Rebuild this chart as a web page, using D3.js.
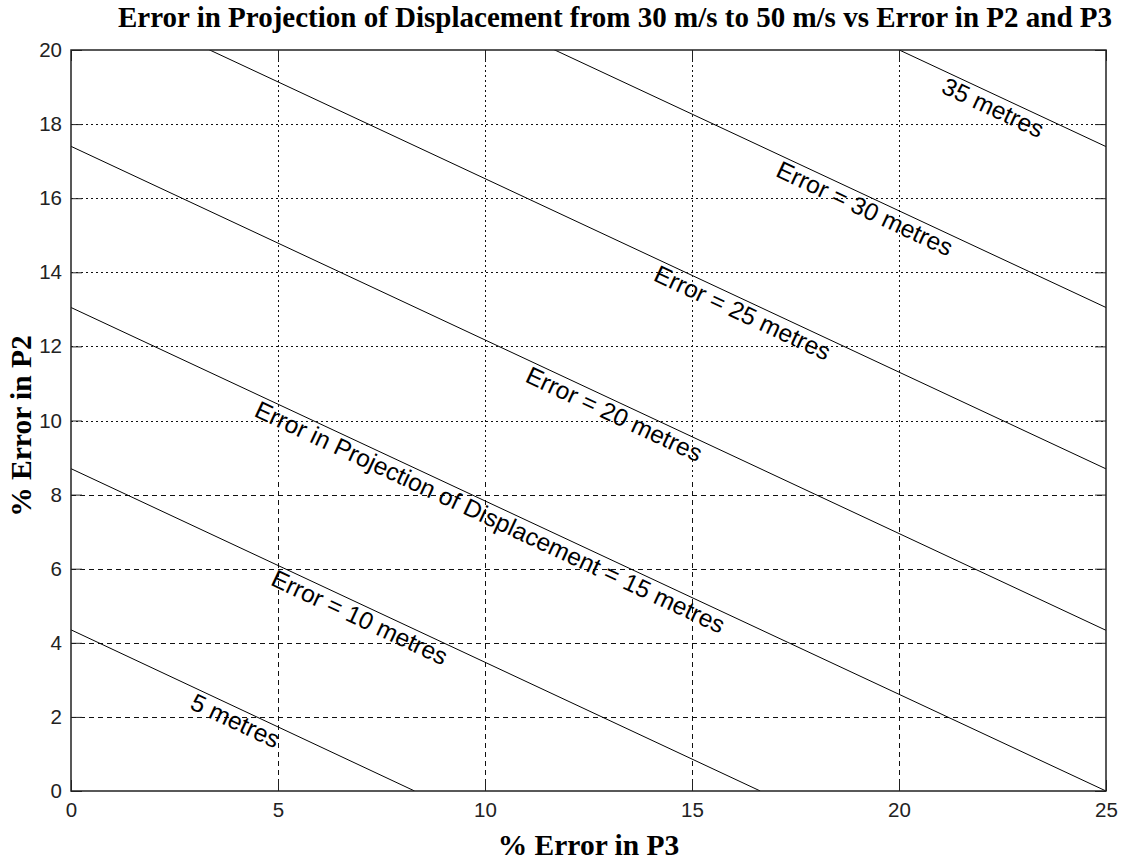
<!DOCTYPE html>
<html>
<head>
<meta charset="utf-8">
<script src="https://cdn.jsdelivr.net/npm/d3@7"></script>
<style>
  html, body { margin: 0; padding: 0; background: #fff; }
  svg { display: block; }
</style>
</head>
<body>
<svg id="chart" width="1125" height="863"></svg>
<script>
// Error levels of the contour lines (metres)
const levels = [5, 10, 15, 20, 25, 30, 35];
// % error in P2 where each contour meets P3 = 0
const p2AtZeroP3 = [4.35, 8.7, 13.05, 17.4, 21.75, 26.1, 30.45];
// % error in P3 where each contour meets P2 = 0
const p3AtZeroP2 = [8.3, 16.65, 25, 33.3, 41.65, 50, 58.3];
// Contour label text and the P3 value where each label sits
const labelTexts = [
  "5 metres",
  "Error = 10 metres",
  "Error in Projection of Displacement = 15 metres",
  "Error = 20 metres",
  "Error = 25 metres",
  "Error = 30 metres",
  "35 metres"
];
const labelAtP3 = [4.1, 7.1, 10.25, 13.25, 16.35, 19.3, 22.4];
// Axis ticks
const xTicks = [0, 5, 10, 15, 20, 25];
const yTicks = [0, 2, 4, 6, 8, 10, 12, 14, 16, 18, 20];

const titleText = "Error in Projection of Displacement from 30 m/s to 50 m/s vs Error in P2 and P3";
const xLabel = "% Error in P3";
const yLabel = "% Error in P2";

const svg = d3.select("#chart");
const plotLeft = 71, plotRight = 1106, plotTop = 50, plotBottom = 791;

const x = d3.scaleLinear().domain([0, 25]).range([plotLeft, plotRight]);
const y = d3.scaleLinear().domain([0, 20]).range([plotBottom, plotTop]);

const defs = svg.append("defs");
defs.append("clipPath").attr("id", "plot-clip")
  .append("rect").attr("x", plotLeft).attr("y", plotTop)
  .attr("width", plotRight - plotLeft).attr("height", plotBottom - plotTop);
// grid is drawn dotted in the upper band and dashed in the lower band
const splitY = 479;
defs.append("clipPath").attr("id", "upper-clip")
  .append("rect").attr("x", plotLeft).attr("y", plotTop)
  .attr("width", plotRight - plotLeft).attr("height", splitY - plotTop);
defs.append("clipPath").attr("id", "lower-clip")
  .append("rect").attr("x", plotLeft).attr("y", splitY)
  .attr("width", plotRight - plotLeft).attr("height", plotBottom - splitY);

function drawGrid(g) {
  g.selectAll("line.v").data(xTicks.slice(1, -1)).join("line")
    .attr("class", "v")
    .attr("x1", d => Math.round(x(d)) + 0.5).attr("x2", d => Math.round(x(d)) + 0.5)
    .attr("y1", plotTop).attr("y2", plotBottom);
  g.selectAll("line.h").data(yTicks.slice(1, -1)).join("line")
    .attr("class", "h")
    .attr("x1", plotLeft).attr("x2", plotRight)
    .attr("y1", d => Math.round(y(d)) + 0.5).attr("y2", d => Math.round(y(d)) + 0.5);
}
const gridUpper = svg.append("g").attr("clip-path", "url(#upper-clip)")
  .attr("stroke", "#111").attr("stroke-width", 1).attr("stroke-dasharray", "2,3");
drawGrid(gridUpper);
const gridLower = svg.append("g").attr("clip-path", "url(#lower-clip)")
  .attr("stroke", "#111").attr("stroke-width", 1).attr("stroke-dasharray", "5,4");
drawGrid(gridLower);

// Contour lines
const contours = levels.map((lv, i) => ({
  level: lv,
  pts: [[0, p2AtZeroP3[i]], [p3AtZeroP2[i], 0]],
  text: labelTexts[i],
  at: labelAtP3[i]
}));
const line = d3.line().x(d => x(d[0])).y(d => y(d[1]));
svg.append("g").attr("clip-path", "url(#plot-clip)")
  .selectAll("path").data(contours).join("path")
  .attr("d", d => line(d.pts))
  .attr("fill", "none").attr("stroke", "#000").attr("stroke-width", 1);

// Contour labels, rotated along each line and hung just below it
svg.append("g").selectAll("text").data(contours).join("text")
  .attr("transform", d => {
    const [a, b] = d.pts;
    const ang = Math.atan2(y(b[1]) - y(a[1]), x(b[0]) - x(a[0])) * 180 / Math.PI;
    const p2 = a[1] + (b[1] - a[1]) * (d.at - a[0]) / (b[0] - a[0]);
    return `translate(${x(d.at)},${y(p2)}) rotate(${ang})`;
  })
  .attr("dy", 21)
  .attr("text-anchor", "middle")
  .attr("font-family", "'Liberation Sans', Arial, sans-serif")
  .attr("font-size", 24.5)
  .attr("fill", "#000")
  .text(d => d.text);

// Axes with inward ticks on all four sides
const tickLen = 11;
const axisStyle = g => {
  g.select(".domain").remove();
  g.selectAll(".tick line").attr("stroke", "#222");
  g.selectAll(".tick text").attr("font-family", "'Liberation Sans', Arial, sans-serif")
    .attr("font-size", 20.5).attr("fill", "#222");
};
svg.append("g").attr("transform", `translate(0,${plotBottom})`)
  .call(d3.axisBottom(x).tickValues(xTicks).tickSizeInner(-tickLen).tickSizeOuter(0).tickPadding(11))
  .call(axisStyle);
svg.append("g").attr("transform", `translate(0,${plotTop})`)
  .call(d3.axisTop(x).tickValues(xTicks).tickSizeInner(-tickLen).tickSizeOuter(0).tickFormat(""))
  .call(axisStyle);
svg.append("g").attr("transform", `translate(${plotLeft},0)`)
  .call(d3.axisLeft(y).tickValues(yTicks).tickSizeInner(-tickLen).tickSizeOuter(0).tickPadding(9))
  .call(axisStyle);
svg.append("g").attr("transform", `translate(${plotRight},0)`)
  .call(d3.axisRight(y).tickValues(yTicks).tickSizeInner(-tickLen).tickSizeOuter(0).tickFormat(""))
  .call(axisStyle);

// Plot frame
svg.append("rect")
  .attr("x", plotLeft).attr("y", plotTop)
  .attr("width", plotRight - plotLeft).attr("height", plotBottom - plotTop)
  .attr("fill", "none").attr("stroke", "#222").attr("stroke-width", 1.5);

// Title and axis labels
svg.append("text")
  .attr("x", 615).attr("y", 27)
  .attr("text-anchor", "middle")
  .attr("font-family", "'Liberation Serif', 'Times New Roman', serif")
  .attr("font-weight", "bold").attr("font-size", 29)
  .text(titleText);
svg.append("text")
  .attr("x", (plotLeft + plotRight) / 2).attr("y", 855)
  .attr("text-anchor", "middle")
  .attr("font-family", "'Liberation Serif', 'Times New Roman', serif")
  .attr("font-weight", "bold").attr("font-size", 29.5)
  .text(xLabel);
svg.append("text")
  .attr("transform", `translate(31,426) rotate(-90)`)
  .attr("text-anchor", "middle")
  .attr("font-family", "'Liberation Serif', 'Times New Roman', serif")
  .attr("font-weight", "bold").attr("font-size", 29.5)
  .text(yLabel);
</script>
</body>
</html>
